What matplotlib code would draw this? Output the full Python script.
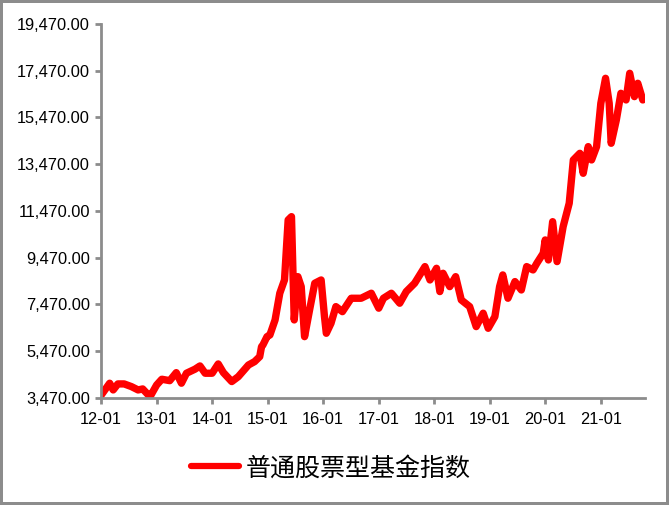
import datetime as dt
import matplotlib
matplotlib.use("Agg")
import matplotlib.pyplot as plt
import matplotlib.dates as mdates
import numpy as np

# index level (date, value) #
dates = ["2012-01-03", "2012-02-27", "2012-03-21", "2012-04-21", "2012-06-01",
         "2012-07-19", "2012-09-01", "2012-10-01", "2012-11-07", "2012-11-19",
         "2013-01-01", "2013-02-04", "2013-03-28", "2013-05-10", "2013-06-13",
         "2013-07-16", "2013-09-10", "2013-10-13", "2013-11-16", "2014-01-01",
         "2014-02-10", "2014-03-16", "2014-05-10", "2014-06-22", "2014-08-28",
         "2014-10-07", "2014-11-10", "2014-11-22", "2014-12-01", "2014-12-28",
         "2015-01-16", "2015-02-19", "2015-03-22", "2015-04-22", "2015-05-16",
         "2015-06-07", "2015-06-25", "2015-07-19", "2015-08-10", "2015-09-01",
         "2015-10-04", "2015-11-07", "2015-12-19", "2016-01-10", "2016-01-22",
         "2016-02-22", "2016-03-25", "2016-05-07", "2016-07-04", "2016-09-07",
         "2016-11-13", "2017-01-01", "2017-02-01", "2017-03-25", "2017-05-19",
         "2017-07-01", "2017-08-25", "2017-11-01", "2017-12-04", "2018-01-16",
         "2018-02-07", "2018-02-28", "2018-04-13", "2018-05-22", "2018-06-28",
         "2018-08-22", "2018-10-04", "2018-11-19", "2018-12-22", "2019-02-04",
         "2019-03-07", "2019-03-28", "2019-05-01", "2019-06-16", "2019-07-28",
         "2019-09-01", "2019-10-13", "2019-11-07", "2019-12-19", "2020-01-01",
         "2020-01-22", "2020-02-19", "2020-03-19", "2020-04-28", "2020-06-07",
         "2020-07-04", "2020-08-16", "2020-09-07", "2020-10-10", "2020-11-01",
         "2020-12-04", "2021-01-01", "2021-02-01", "2021-02-25", "2021-03-10",
         "2021-04-13", "2021-05-13", "2021-06-16", "2021-07-10", "2021-08-10",
         "2021-09-01", "2021-10-04"]
values = [3600, 4100, 3812, 4070, 4070,
          3955, 3812, 3855, 3600, 3530,
          4025, 4270, 4210, 4553, 4100,
          4527, 4700, 4840, 4527, 4527,
          4925, 4553, 4170, 4380, 4880,
          5023, 5237, 5665, 5737, 6092,
          6165, 6807, 7950, 8518, 11085,
          11227, 6807, 8660, 8233, 6092,
          7235, 8377, 8518, 6950, 6237,
          6665, 7378, 7162, 7735, 7735,
          7950, 7310, 7735, 7950, 7522,
          8020, 8377, 9090, 8518, 9018,
          8020, 8805, 8233, 8660, 7662,
          7378, 6522, 7095, 6450, 6950,
          8233, 8733, 7735, 8448, 8090,
          9090, 8946, 9233, 9660, 10230,
          9374, 11012, 9303, 10800, 11800,
          13652, 13937, 13082, 14223, 13652,
          14223, 16078, 17147, 16078, 14366,
          15364, 16505, 16220, 17361, 16362,
          16933, 16220]
yticks = [3470, 5470, 7470, 9470, 11470, 13470, 15470, 17470, 19470]
series_name = "普通股票型基金指数"

x = [dt.datetime.strptime(d, "%Y-%m-%d") for d in dates]
grey = "#8c8c8c"

fig = plt.figure(figsize=(6.69, 5.05), dpi=100)
fig.patch.set_edgecolor(grey)
fig.patch.set_linewidth(4)
ax = fig.add_axes([0.151, 0.212, 0.813, 0.7405])

ax.plot(x, values, color="#ff0000", lw=5.3, solid_capstyle="round",
        solid_joinstyle="round", label=series_name)

ax.set_ylim(3470, 19470)
ax.set_yticks(yticks)
ax.set_yticklabels(["{:,.2f}".format(v) for v in yticks],
                   fontsize=11.8, family="Liberation Sans")
ax.set_xlim(dt.datetime(2012, 1, 1), dt.datetime(2021, 10, 18))
ax.xaxis.set_major_locator(mdates.YearLocator())
ax.xaxis.set_major_formatter(mdates.DateFormatter("%y-%m"))
for lab in ax.get_xticklabels():
    lab.set_fontsize(11.8)
    lab.set_family("Liberation Sans")

for s in ["top", "right"]:
    ax.spines[s].set_visible(False)
for s in ["left", "bottom"]:
    ax.spines[s].set_color(grey)
    ax.spines[s].set_linewidth(2)
ax.tick_params(axis="both", color=grey, width=2, length=4)
ax.tick_params(axis="y", pad=4)
ax.tick_params(axis="x", pad=6)

leg = fig.legend(loc="center", bbox_to_anchor=(0.495, 0.073), frameon=False,
                 handlelength=1.9, handletextpad=0.3,
                 prop={"family": "Noto Sans CJK SC", "size": 18})
for h in leg.get_lines():
    h.set_linewidth(4.5)

fig.savefig("out.png", dpi=100, edgecolor=fig.get_edgecolor())
